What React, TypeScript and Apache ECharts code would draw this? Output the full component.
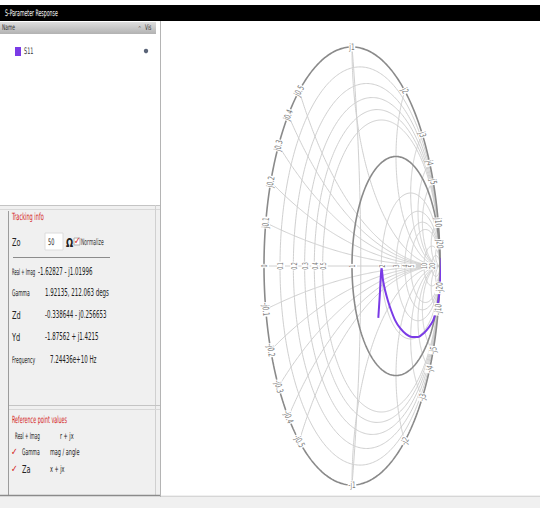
import React, { useEffect, useRef } from "react";
import * as echarts from "echarts";

// S11 trace, reflection coefficient Γ (real / imaginary)
const s11Re = [0.299, 0.318, 0.335, 0.352, 0.375, 0.409, 0.443, 0.489, 0.545, 0.614, 0.682, 0.75, 0.818, 0.875, 0.92, 0.955, 0.983, 1.0, 1.011, 1.017];
const s11Im = [-0.237, -0.119, 0.0, -0.064, -0.11, -0.16, -0.201, -0.247, -0.283, -0.311, -0.324, -0.324, -0.306, -0.279, -0.251, -0.205, -0.155, -0.096, -0.027, 0.037];

// Smith chart grid values and tick labels
const rGridValues = [0.1, 0.2, 0.3, 0.4, 0.5, 2, 3, 4, 5, 10, 20];
const rMainValues = [0, 1];
const xGridValues = [0.1, 0.2, 0.3, 0.4, 0.5, 1, 2, 3, 4, 5, 10, 20];
const rTickValues = [0, 0.1, 0.2, 0.3, 0.4, 0.5, 1, 2, 3, 4, 5, 10, 20];
const rTickLabels = ["0", "0.1", "0.2", "0.3", "0.4", "0.5", "1", "2", "3", "4", "5", "10", "20"];
const xTickLabels = ["0.1", "0.2", "0.3", "0.4", "0.5", "1", "2", "3", "4", "5", "10", "20"];

// Side panel texts
const trackingLabels = ["Real + Imag", "Gamma", "Zd", "Yd", "Frequency"];
const trackingValues = ["-1.62827 - j1.01996", "1.92135, 212.063 degs", "-0.338644 - j0.256653", "-1.87562 + j1.4215", "7.24436e+10 Hz"];
const refLabels = ["Real + Imag", "Gamma", "Za"];
const refValues = ["r + jx", "mag / angle", "x + jx"];

const PURPLE = "#7a3be6";
const LIGHT = "#d0d0d0";
const DARK = "#8a8a8a";
const FONT = "DejaVu Sans";

function rCircle(r: number): number[][] {
  const c = r / (1 + r);
  const rad = 1 / (1 + r);
  const pts: number[][] = [];
  for (let i = 0; i <= 360; i++) {
    const a = (i / 360) * 2 * Math.PI;
    pts.push([c + rad * Math.cos(a), rad * Math.sin(a)]);
  }
  return pts;
}

function xArc(x: number): number[][] {
  const ax = Math.abs(x);
  let alpha = Math.atan2((ax * ax - 1) / ax, -2);
  if (alpha < 0) alpha += 2 * Math.PI;
  const end = 1.5 * Math.PI;
  const pts: number[][] = [];
  const n = 160;
  for (let i = 0; i <= n; i++) {
    const a = alpha + ((end - alpha) * i) / n;
    const gx = 1 + (1 / ax) * Math.cos(a);
    const gy = 1 / ax + (1 / ax) * Math.sin(a);
    pts.push([gx, x > 0 ? gy : -gy]);
  }
  return pts;
}

function midArc(): number[][] {
  const a = 0.1;
  const c = (a * a - 1) / (2 * a);
  const R = Math.sqrt(c * c + 1);
  const lim = Math.asin(1 / R);
  const pts: number[][] = [];
  for (let i = 0; i <= 60; i++) {
    const t = -lim + (2 * lim * i) / 60;
    pts.push([c + R * Math.cos(t), R * Math.sin(t)]);
  }
  return pts;
}

function lineSeries(data: number[][], color: string, width: number, z = 1) {
  return {
    type: "line",
    data,
    showSymbol: false,
    symbol: "none",
    silent: true,
    clip: false,
    z,
    lineStyle: { color, width },
  };
}

function T(text: string, x: number, y: number, o: any = {}) {
  return {
    type: "text",
    x,
    y,
    scaleX: o.sx ?? 0.55,
    rotation: o.rot ?? 0,
    silent: true,
    z: o.z ?? 10,
    style: {
      text,
      fill: o.fill ?? "#222",
      fontSize: o.fs ?? 10,
      fontFamily: FONT,
      fontWeight: o.fw ?? "normal",
      align: o.align ?? "left",
      verticalAlign: "middle",
      textAlign: o.align ?? "left",
      textVerticalAlign: "middle",
      backgroundColor: o.bg,
      padding: o.bg ? [0, 1] : 0,
    },
  };
}

export default function App() {
  const ref = useRef<HTMLDivElement>(null);
  useEffect(() => {
    const chart = echarts.init(ref.current!, null, { renderer: "svg", width: 540, height: 508 });
    const series: any[] = [];
    rGridValues.forEach((r) => series.push(lineSeries(rCircle(r), LIGHT, 1)));
    xGridValues.forEach((x) => {
      series.push(lineSeries(xArc(x), LIGHT, 1));
      series.push(lineSeries(xArc(-x), LIGHT, 1));
    });
    series.push(lineSeries([[-1, 0], [1, 0]], LIGHT, 1));
    series.push(lineSeries(midArc(), LIGHT, 1));
    rMainValues.forEach((r) => series.push(lineSeries(rCircle(r), DARK, 1.6, 2)));
    series.push({
      type: "line",
      name: "S11",
      data: s11Re.map((v, i) => [v, s11Im[i]]),
      showSymbol: false,
      symbol: "none",
      smooth: 0.2,
      clip: false,
      z: 5,
      lineStyle: { color: PURPLE, width: 2 },
    });

    chart.setOption({
      animation: false,
      backgroundColor: "#ffffff",
      grid: { left: 264, top: 47, width: 176, height: 438 },
      xAxis: { type: "value", min: -1, max: 1, show: false },
      yAxis: { type: "value", min: -1, max: 1, show: false },
      series,
    });

    const px = (g: number[]) => chart.convertToPixel({ gridIndex: 0 }, g) as number[];
    const labels: any[] = [];
    const lblOpt = { fs: 9, fill: "#7a7a7a", bg: "#ffffff", align: "center", sx: 0.65, z: 20 };

    xGridValues.forEach((x, i) => {
      [1, -1].forEach((sign) => {
        const xv = x * sign;
        const d = xv * xv + 1;
        const g = [(xv * xv - 1) / d, (2 * xv) / d];
        const th = Math.atan2(g[1], g[0]);
        const dl = 0.02;
        const p1 = px([Math.cos(th - dl), Math.sin(th - dl)]);
        const p2 = px([Math.cos(th + dl), Math.sin(th + dl)]);
        const a = sign > 0 ? p2 : p1;
        const b = sign > 0 ? p1 : p2;
        const phi = Math.atan2(b[1] - a[1], b[0] - a[0]);
        const p = px(g);
        labels.push(T((sign > 0 ? "j" : "-j") + xTickLabels[i], p[0], p[1], { ...lblOpt, rot: -phi }));
      });
    });
    rTickValues.forEach((r, i) => {
      const p = px([(r - 1) / (r + 1), 0]);
      labels.push(T(rTickLabels[i], p[0] + 1, p[1], { ...lblOpt, fs: 8, sx: 0.6, rot: Math.PI / 2 }));
    });

    const headGrad = new echarts.graphic.LinearGradient(0, 0, 0, 1, [
      { offset: 0, color: "#dedede" },
      { offset: 1, color: "#b2b2b2" },
    ]);

    const rowY = [272, 293, 315, 337, 360];
    const panel: any[] = [
      { type: "rect", shape: { x: 0, y: 5, width: 540, height: 16 }, style: { fill: "#000" }, silent: true },
      T("S-Parameter Response", 5, 13, { fill: "#ffffff", fs: 9, sx: 0.52 }),
      { type: "rect", shape: { x: 0, y: 22, width: 156, height: 12 }, style: { fill: headGrad }, silent: true },
      T("Name", 2, 28, { fs: 8, fill: "#333" }),
      T("Vis", 145, 28, { fs: 8, fill: "#333" }),
      T("^", 138, 29, { fs: 7, fill: "#555" }),
      { type: "rect", shape: { x: 15, y: 47, width: 6, height: 9 }, style: { fill: PURPLE }, silent: true },
      T("S11", 24, 51, { fs: 9, fill: "#333" }),
      { type: "circle", shape: { cx: 146, cy: 51, r: 2.2 }, style: { fill: "#5a6478" }, silent: true },

      // tracking info group
      { type: "rect", shape: { x: 0, y: 205, width: 160, height: 290 }, style: { fill: "#f0f0f0" }, silent: true },
      { type: "line", shape: { x1: 0, y1: 205.5, x2: 160, y2: 205.5 }, style: { stroke: "#c4c4c4", lineWidth: 1 }, silent: true },
      { type: "line", shape: { x1: 0, y1: 209.5, x2: 160, y2: 209.5 }, style: { stroke: "#d8d8d8", lineWidth: 1 }, silent: true },
      { type: "line", shape: { x1: 8.5, y1: 211, x2: 8.5, y2: 495 }, style: { stroke: "#9c9c9c", lineWidth: 1 }, silent: true },
      { type: "line", shape: { x1: 155.5, y1: 205, x2: 155.5, y2: 495 }, style: { stroke: "#d0d0d0", lineWidth: 1 }, silent: true },
      T("Tracking info", 12, 217, { fill: "#d42323", fs: 10, sx: 0.5 }),
      T("Zo", 12, 242, { fs: 11, sx: 0.6 }),
      { type: "rect", shape: { x: 45, y: 233, width: 18, height: 17 }, style: { fill: "#ffffff", stroke: "#dcdcdc" }, silent: true },
      T("50", 48, 242, { fs: 9 }),
      T("Ω", 66, 242, { fs: 12, fw: "bold", sx: 0.7 }),
      { type: "rect", shape: { x: 74, y: 238, width: 6, height: 7 }, style: { fill: "#ffffff", stroke: "#b0b0b0" }, silent: true },
      T("✓", 74, 241, { fs: 10, fill: "#d42323", sx: 0.8 }),
      T("Normalize", 81, 242, { fs: 9, fill: "#333", sx: 0.5 }),
      { type: "line", shape: { x1: 13, y1: 257.5, x2: 110, y2: 257.5 }, style: { stroke: "#8c8c8c", lineWidth: 1 }, silent: true },
      ...trackingLabels.map((l, i) =>
        T(l, 12, rowY[i], {
          fs: i === 2 || i === 3 ? 11 : 9,
          sx: i === 0 ? 0.42 : i === 2 || i === 3 ? 0.6 : 0.5,
        })
      ),
      ...trackingValues.map((v, i) => T(v, [38, 45, 45, 45, 50][i], rowY[i], { fs: 10, sx: 0.55 })),

      // reference point values group
      { type: "line", shape: { x1: 9, y1: 405.5, x2: 160, y2: 405.5 }, style: { stroke: "#c4c4c4", lineWidth: 1 }, silent: true },
      { type: "line", shape: { x1: 9, y1: 409.5, x2: 160, y2: 409.5 }, style: { stroke: "#d8d8d8", lineWidth: 1 }, silent: true },
      T("Reference point values", 12, 420, { fill: "#d42323", fs: 10, sx: 0.48 }),
      T(refLabels[0], 15, 436, { fs: 9, sx: 0.45 }),
      T(refValues[0], 60, 436, { fs: 9 }),
      T("✓", 11, 452, { fs: 10, fill: "#d42323", sx: 0.8 }),
      T(refLabels[1], 22, 452, { fs: 9, sx: 0.5 }),
      T(refValues[1], 50, 452, { fs: 9 }),
      T("✓", 11, 469, { fs: 10, fill: "#d42323", sx: 0.8 }),
      T(refLabels[2], 22, 469, { fs: 11, sx: 0.6 }),
      T(refValues[2], 50, 469, { fs: 9 }),

      // bottom & separators
      { type: "rect", shape: { x: 0, y: 495, width: 540, height: 13 }, style: { fill: "#f0f0f0" }, silent: true },
      { type: "line", shape: { x1: 0, y1: 495.5, x2: 160, y2: 495.5 }, style: { stroke: "#8a8a8a", lineWidth: 1.5 }, silent: true },
      { type: "line", shape: { x1: 161, y1: 496.5, x2: 540, y2: 496.5 }, style: { stroke: "#d6d6d6", lineWidth: 1 }, silent: true },
      { type: "line", shape: { x1: 160.5, y1: 21, x2: 160.5, y2: 497 }, style: { stroke: "#b4b4b4", lineWidth: 1 }, silent: true },
    ];

    chart.setOption({ graphic: { elements: [...panel, ...labels] } });
    return () => chart.dispose();
  }, []);
  return (
    <div
      ref={ref}
      style={{ position: "absolute", left: 0, top: 0, width: 540, height: 508, background: "#fff" }}
    />
  );
}
